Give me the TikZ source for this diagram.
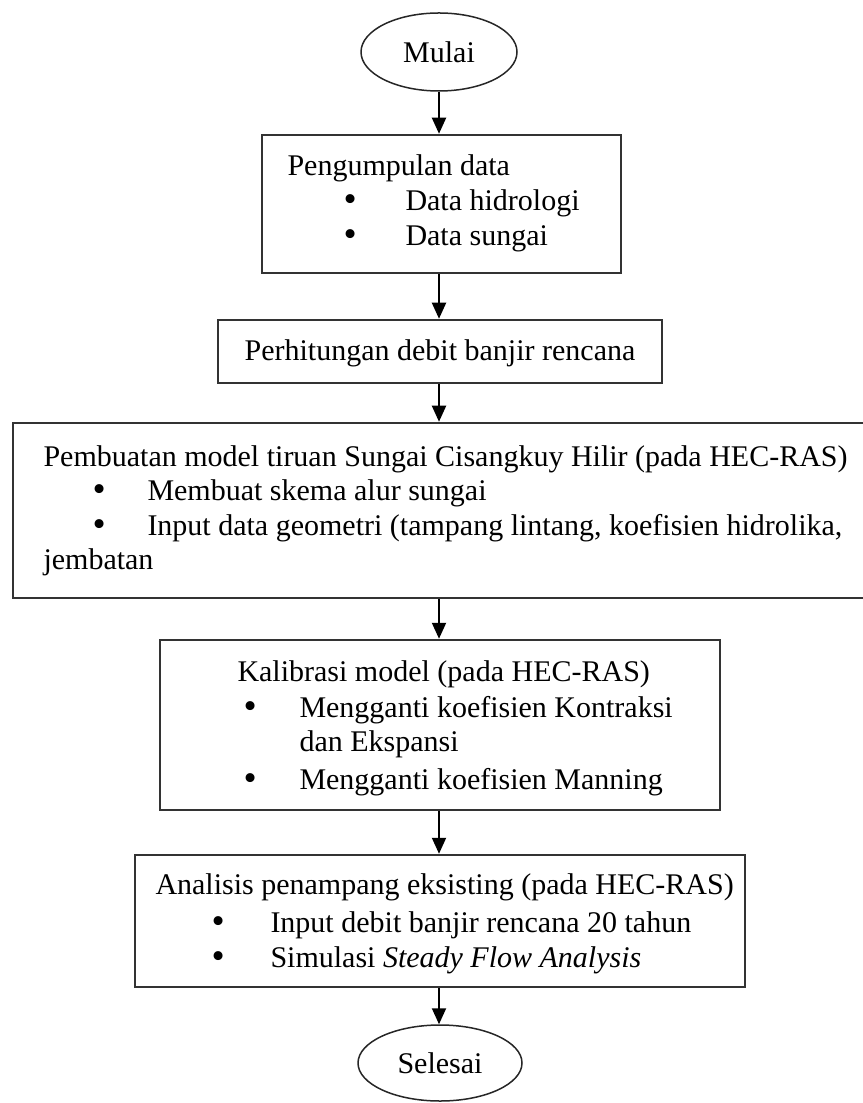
\documentclass[tikz,border=0pt]{standalone}
\usepackage{fontspec}
\setmainfont{Liberation Serif}
\usetikzlibrary{arrows.meta,shapes.geometric,fit}

\tikzset{
  terminal/.style={draw=black!85, line width=0.6pt, ellipse, inner sep=0pt, font=\fontsize{12}{14}\selectfont},
  prosesbox/.style={draw=black!80, line width=1pt, rectangle, inner sep=0pt},
  teks/.style={anchor=base west, inner sep=0pt, font=\fontsize{12}{14}\selectfont},
  titik/.style={anchor=base west, inner sep=0pt, font=\fontsize{15}{15}\selectfont},
  alur/.style={line width=0.8pt, -{Triangle[length=6.4pt,width=5.6pt]}}
}

\begin{document}
\begin{tikzpicture}[x=0.4pt,y=0.4pt,yscale=-1,xscale=1]
\useasboundingbox (0,0) rectangle (862,1103);

%Shape: Ellipse [id:mulai]
\node[terminal, minimum width=62.4pt, minimum height=31.2pt] (mulai) at (439,52) {Mulai};

%Shape: Rectangle [id:kumpul]
\node[prosesbox, fit={(262,135) (621,273)}] (kumpul) {};
% Text Node
\node[teks] (kumpul-judul) at (287,176) {Pengumpulan data};
% Text Node
\node[titik] (kumpul-b1) at (343,212) {\textbullet};
\node[teks] (kumpul-i1) at (405,211) {Data hidrologi};
% Text Node
\node[titik] (kumpul-b2) at (343,247) {\textbullet};
\node[teks] (kumpul-i2) at (405,246) {Data sungai};

%Shape: Rectangle [id:hitung]
\node[prosesbox, fit={(218,320) (662,383)}] (hitung) {};
% Text Node
\node[teks, anchor=base] (hitung-judul) at (440,361) {Perhitungan debit banjir rencana};

%Shape: Rectangle [id:model]
\node[prosesbox, fit={(13,423) (880,598)}] (model) {};
% Text Node
\node[teks] (model-judul) at (43,467) {Pembuatan model tiruan Sungai Cisangkuy Hilir (pada HEC-RAS)};
% Text Node
\node[titik] (model-b1) at (92,502) {\textbullet};
\node[teks] (model-i1) at (147,501) {Membuat skema alur sungai};
% Text Node
\node[titik] (model-b2) at (92,536) {\textbullet};
\node[teks] (model-i2) at (147,535) {Input data geometri (tampang lintang, koefisien hidrolika,};
\node[teks] (model-i2b) at (43,569) {jembatan};

%Shape: Rectangle [id:kalibrasi]
\node[prosesbox, fit={(160,640) (720,810)}] (kalibrasi) {};
% Text Node
\node[teks] (kalibrasi-judul) at (237,681) {Kalibrasi model (pada HEC-RAS)};
% Text Node
\node[titik] (kalibrasi-b1) at (243,718) {\textbullet};
\node[teks] (kalibrasi-i1) at (299,717) {Mengganti koefisien Kontraksi};
\node[teks] (kalibrasi-i1b) at (299,751) {dan Ekspansi};
% Text Node
\node[titik] (kalibrasi-b2) at (243,790) {\textbullet};
\node[teks] (kalibrasi-i2) at (299,789) {Mengganti koefisien Manning};

%Shape: Rectangle [id:analisis]
\node[prosesbox, fit={(135,855) (745,987)}] (analisis) {};
% Text Node
\node[teks] (analisis-judul) at (155,894) {Analisis penampang eksisting (pada HEC-RAS)};
% Text Node
\node[titik] (analisis-b1) at (211,933) {\textbullet};
\node[teks] (analisis-i1) at (270,932) {Input debit banjir rencana 20 tahun};
% Text Node
\node[titik] (analisis-b2) at (211,968) {\textbullet};
\node[teks] (analisis-i2) at (270,967) {Simulasi \textit{Steady Flow Analysis}};

%Shape: Ellipse [id:selesai]
\node[terminal, minimum width=65.6pt, minimum height=30.4pt] (selesai) at (440,1063) {Selesai};

%Straight Lines
\draw[alur] (mulai.south) -- (kumpul.north -| mulai);
\draw[alur] (kumpul.south -| mulai) -- (hitung.north -| mulai);
\draw[alur] (hitung.south -| mulai) -- (model.north -| mulai);
\draw[alur] (model.south -| mulai) -- (kalibrasi.north -| mulai);
\draw[alur] (kalibrasi.south -| mulai) -- (analisis.north -| mulai);
\draw[alur] (analisis.south -| mulai) -- (selesai.north -| mulai);

\end{tikzpicture}
\end{document}
